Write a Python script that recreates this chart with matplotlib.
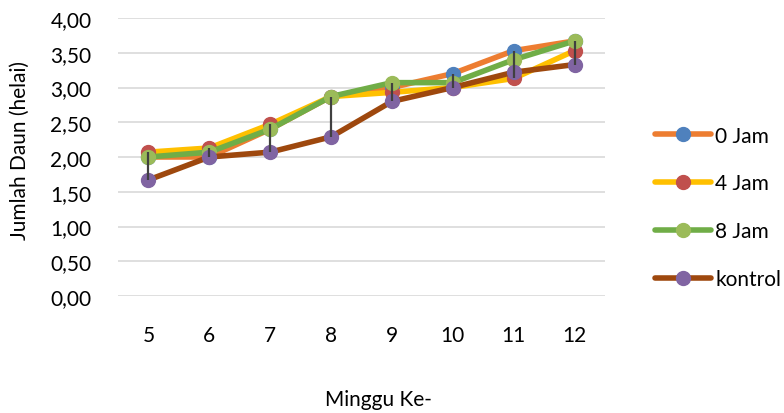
import matplotlib
matplotlib.use("Agg")
import matplotlib.pyplot as plt
import numpy as np

weeks = ["5", "6", "7", "8", "9", "10", "11", "12"]
series_names = ["0 Jam", "4 Jam", "8 Jam", "kontrol"]
jam0 = [2.00, 2.00, 2.40, 2.87, 3.00, 3.20, 3.53, 3.67]
jam4 = [2.07, 2.13, 2.47, 2.87, 2.93, 3.00, 3.13, 3.53]
jam8 = [2.00, 2.07, 2.40, 2.87, 3.07, 3.07, 3.40, 3.67]
kontrol = [1.67, 2.00, 2.07, 2.29, 2.80, 3.00, 3.22, 3.33]
yticks = [0, 0.5, 1, 1.5, 2, 2.5, 3, 3.5, 4]
ytick_labels = ["0,00", "0,50", "1,00", "1,50", "2,00", "2,50", "3,00", "3,50", "4,00"]

line_colors = ["#ED7D31", "#FFC000", "#70AD47", "#9E480E"]
marker_colors = ["#4F81BD", "#C0504D", "#9BBB59", "#8064A2"]

plt.rcParams['font.family'] = ['Lato', 'DejaVu Sans']
FS = 15

fig = plt.figure(figsize=(7.84, 4.14), dpi=100)
W, H = 784, 414
ax = fig.add_axes([118 / W, (H - 297) / H, (605 - 118) / W, (297 - 19) / H])

x = np.arange(len(weeks))
all_series = [jam0, jam4, jam8, kontrol]
for i, (name, vals) in enumerate(zip(series_names, all_series)):
    ax.plot(x, vals, color=line_colors[i], lw=4.0, marker='o', ms=10,
            markerfacecolor=marker_colors[i], markeredgecolor=marker_colors[i],
            label=name, zorder=3 + i, solid_capstyle='round')

arr = np.array(all_series)
ax.vlines(x, arr.min(axis=0), arr.max(axis=0), color="#404040", lw=1.6, zorder=10)

ax.set_xlim(-0.5, len(weeks) - 0.5)
ax.set_ylim(0, 4)
ax.set_xticks(x)
ax.set_xticklabels(weeks)
ax.set_yticks(yticks)
ax.set_yticklabels(ytick_labels)
ax.tick_params(length=0, labelsize=FS, colors="#000000")
ax.tick_params(axis='x', pad=21)
ax.tick_params(axis='y', pad=19)
ax.grid(axis='y', color="#D9D9D9", lw=1.2)
ax.set_axisbelow(True)
for s in ax.spines.values():
    s.set_visible(False)

fig.text(20 / W, 1 - 150 / H, "Jumlah Daun (helai)", fontsize=FS, rotation=90,
         ha='center', va='center')
fig.text(378 / W, 1 - 400 / H, "Minggu Ke-", fontsize=FS, ha='center', va='center')

leg = fig.legend(loc='upper left', bbox_to_anchor=(636 / W, 1 - 108 / H), frameon=False,
                 fontsize=FS, handlelength=2.7, handletextpad=0.2, labelspacing=1.33)

fig.savefig("out.png", dpi=100)
